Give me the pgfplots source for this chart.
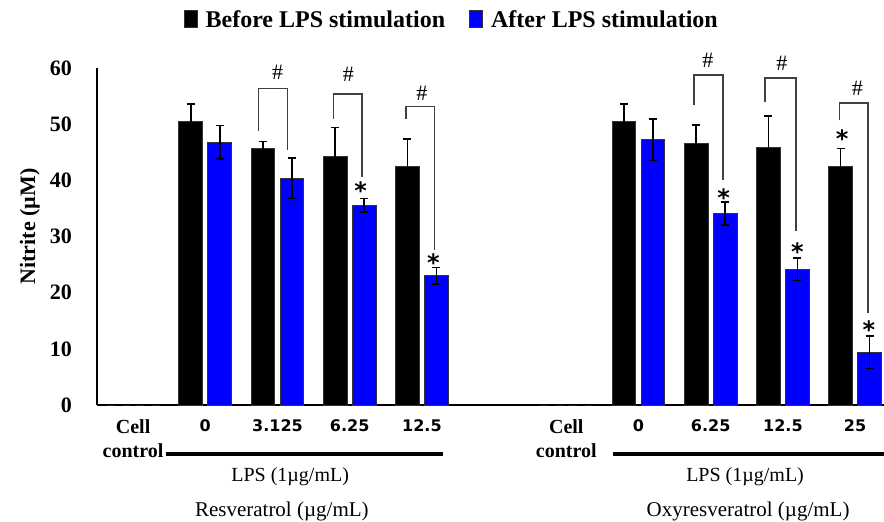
\documentclass[border=0pt]{standalone}
\usepackage{pgfplots}
\usepackage{pgfplotstable}
\pgfplotsset{compat=1.18}
\usepackage{fontspec}
\setmainfont{Liberation Serif}
\newfontfamily\sansb{DejaVu Sans}
\definecolor{myblue}{RGB}{0,0,255}
\pgfplotstableread{
x y e
0 0 0
1 50.4 3.2
2 45.75 1.2
3 44.2 5.2
4 42.4 5.0
6 0 0
7 50.4 3.2
8 46.5 3.4
9 45.8 5.7
10 42.5 3.2
}\before
\pgfplotstableread{
x y e
0 0 0
1 46.8 3.0
2 40.4 3.6
3 35.6 1.2
4 23.0 1.5
6 0 0
7 47.2 3.7
8 34.1 2.0
9 24.2 2.0
10 9.4 2.9
}\after
\newcommand{\catnum}[1]{{\sansb\bfseries\fontsize{8}{10}\selectfont #1}}
\newcommand{\sigast}{{\sansb\bfseries\fontsize{12}{12}\selectfont *}}
\begin{document}
\begin{tikzpicture}
\begin{axis}[
  name=ax,
  scale only axis,
  width=393.5pt, height=168.5pt,
  xmin=-0.5, xmax=10.4,
  ymin=0, ymax=60,
  clip=false,
  axis x line=bottom, axis y line=left,
  axis line style={-, line width=0.6pt, black},
  ytick={0,10,...,60},
  xtick={0,1,2,3,4,6,7,8,9,10},
  xticklabels={{Cell\\control},\catnum{0},\catnum{3.125},\catnum{6.25},\catnum{12.5},{Cell\\control},\catnum{0},\catnum{6.25},\catnum{12.5},\catnum{25}},
  xticklabel style={font=\bfseries\fontsize{10}{12}\selectfont, align=center, anchor=north, yshift=-4pt},
  yticklabel style={font=\bfseries\fontsize{11}{13}\selectfont, xshift=-9pt},
  /pgf/number format/assume math mode=true,
  major tick length=0pt,
  ybar=0pt,
  bar width=0.33,
  legend style={at={(0.452,1.14)}, anchor=center, legend columns=2, draw=none, fill=none,
    font=\bfseries\fontsize{12}{14}\selectfont,
    /tikz/every odd column/.append style={column sep=2pt},
    /tikz/every even column/.append style={column sep=10pt}},
  legend image code/.code={\draw[#1,draw=black!80] (0pt,-3.5pt) rectangle (6.5pt,5pt);},
  error bars/error bar style={line width=0.8pt, black},
  error bars/error mark options={rotate=90, mark size=2pt, line width=0.8pt, black},
]
\addplot[fill=black, draw=black!80, line width=0.5pt, bar shift=-0.2,
  error bars/.cd, y dir=both, y explicit]
  table[x=x, y=y, y error=e]{\before};
\addlegendentry{Before LPS stimulation}
\addplot[fill=myblue, draw=black!80, line width=0.5pt, bar shift=0.2,
  error bars/.cd, y dir=both, y explicit]
  table[x=x, y=y, y error=e]{\after};
\addlegendentry{After LPS stimulation}

% brackets
\draw[black!75, line width=0.7pt] (axis cs:1.735,48.7) |- (axis cs:2.137,56.3) -- (axis cs:2.137,45.4);
\draw[black!75, line width=0.7pt] (axis cs:2.774,51.0) |- (axis cs:3.168,55.4) -- (axis cs:3.168,40.6);
\draw[black!75, line width=0.7pt] (axis cs:3.777,50.9) |- (axis cs:4.173,53.1) -- (axis cs:4.173,27.6);
\draw[black!75, line width=0.7pt] (axis cs:7.77,53.4) |- (axis cs:8.168,58.75) -- (axis cs:8.168,40.1);
\draw[black!75, line width=0.7pt] (axis cs:8.753,54.0) |- (axis cs:9.18,58.2) -- (axis cs:9.18,30.9);
\draw[black!75, line width=0.7pt] (axis cs:9.78,50.7) |- (axis cs:10.18,53.8) -- (axis cs:10.18,16.3);
\begin{scope}[every node/.style={font=\fontsize{11}{11}\selectfont, inner sep=0pt}]
\node at (axis cs:2.0,59.3) {\#};
\node at (axis cs:2.98,58.8) {\#};
\node at (axis cs:4.0,55.5) {\#};
\node at (axis cs:7.96,61.4) {\#};
\node at (axis cs:8.985,60.8) {\#};
\node at (axis cs:10.03,56.4) {\#};
\end{scope}
\begin{scope}[every node/.style={inner sep=0pt, yshift=-2pt}]
\node at (axis cs:3.15,38.9) {\sigast};
\node at (axis cs:4.16,26.1) {\sigast};
\node at (axis cs:8.18,37.7) {\sigast};
\node at (axis cs:9.2,28.0) {\sigast};
\node at (axis cs:10.19,14.2) {\sigast};
\node at (axis cs:9.82,48.2) {\sigast};
\end{scope}

% bottom annotations
\draw[black, line width=2pt] (axis cs:0.453,-8.72) -- (axis cs:4.29,-8.72);
\draw[black, line width=2pt] (axis cs:6.644,-8.72) -- (axis cs:10.4,-8.72);
\node[font=\fontsize{10}{12}\selectfont] at (axis cs:2.175,-12.8) {LPS (1µg/mL)};
\node[font=\fontsize{10}{12}\selectfont] at (axis cs:8.476,-12.8) {LPS (1µg/mL)};
\node[font=\fontsize{10.5}{12}\selectfont] at (axis cs:2.06,-19.0) {Resveratrol (µg/mL)};
\node[font=\fontsize{10.5}{12}\selectfont] at (axis cs:8.518,-19.0) {Oxyresveratrol (µg/mL)};
\node[rotate=90, font=\bfseries\fontsize{11}{12}\selectfont] at (axis cs:-1.43,31.8) {Nitrite (µM)};
\end{axis}
\pgfresetboundingbox
\path ([shift={(-48.5pt,-58pt)}]ax.south west) rectangle ([shift={(393.5pt,202.5pt)}]ax.south west);
\end{tikzpicture}
\end{document}
